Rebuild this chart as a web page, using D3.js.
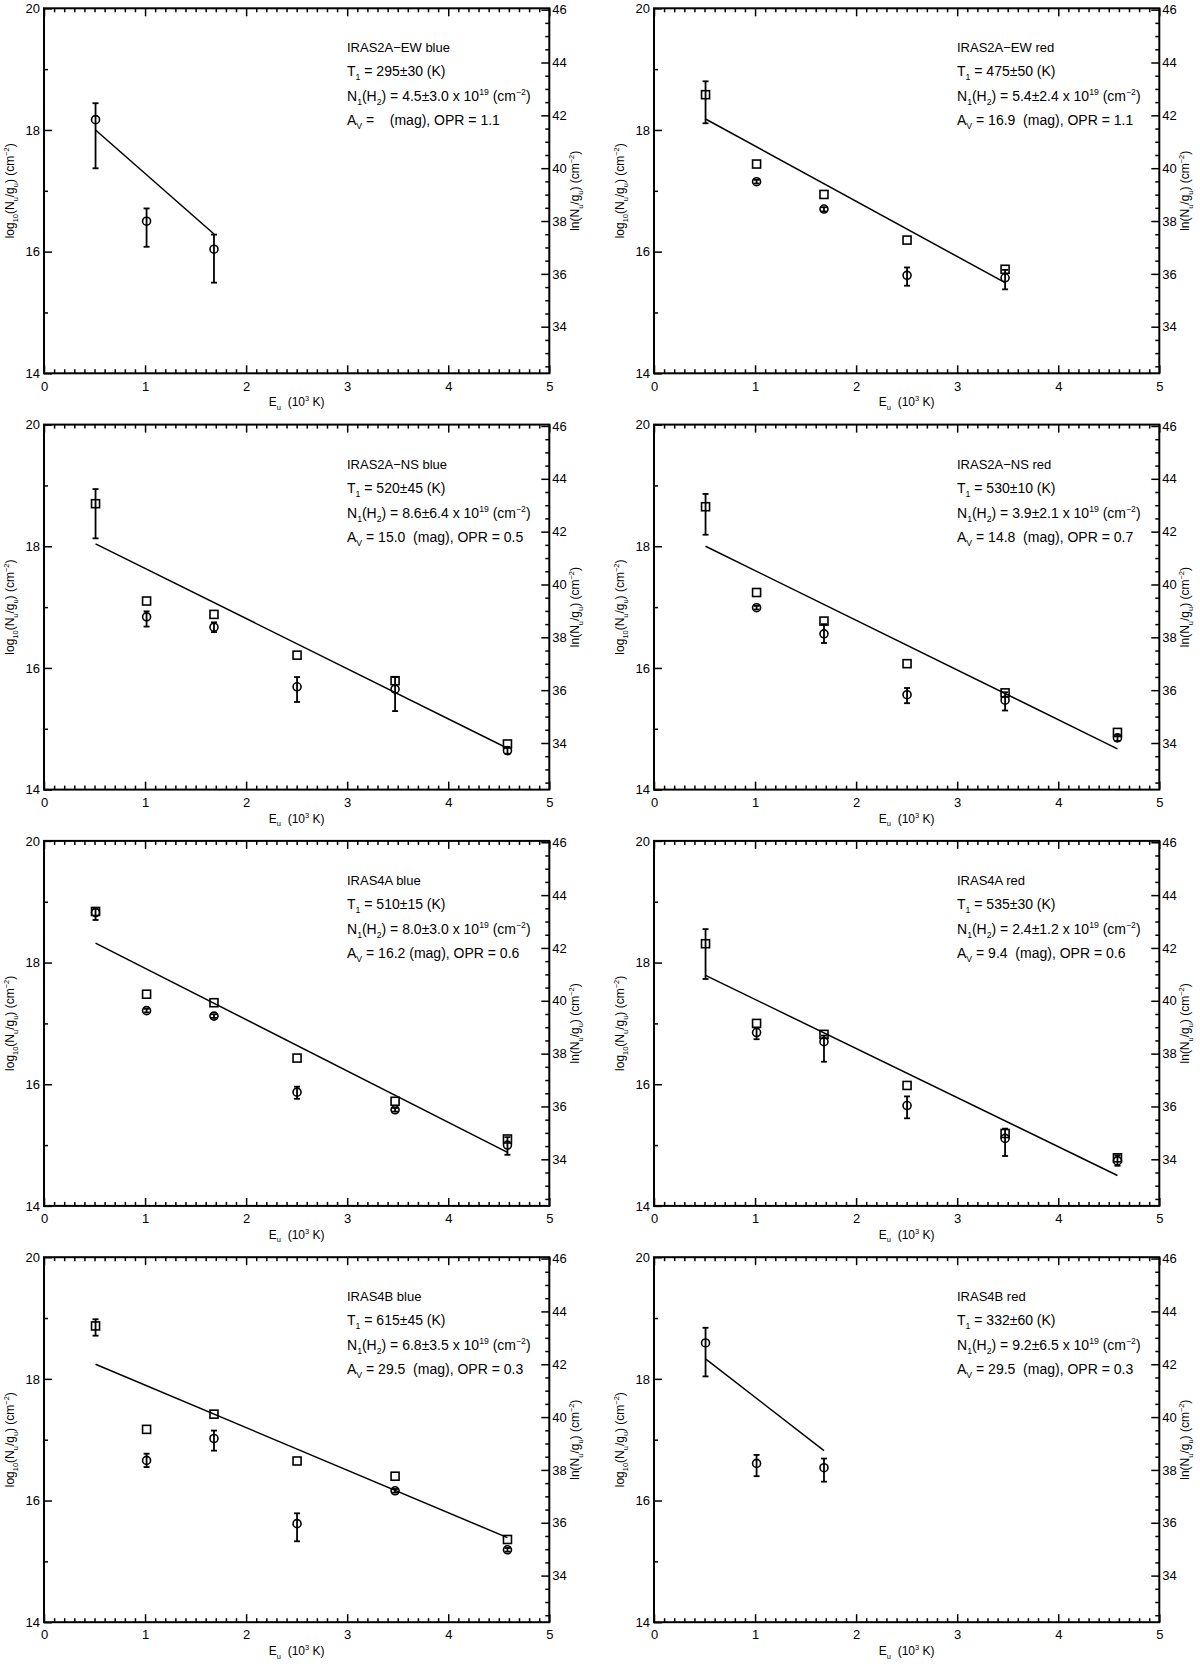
<!DOCTYPE html>
<html>
<head>
<meta charset="utf-8">
<script src="https://cdn.jsdelivr.net/npm/d3@7"></script>
<style>
  html, body { margin: 0; padding: 0; background: #fff; }
  text { font-family: "Liberation Sans", Arial, Helvetica, sans-serif; fill: #000; white-space: pre; }
</style>
</head>
<body>
<script>
// ---------------- DATA ----------------
const energies = [0.510, 1.015, 1.682, 2.504, 3.474, 4.586]; // E_u (10^3 K)

const xTicks = [0, 1, 2, 3, 4, 5];
const yTicks = [14, 16, 18, 20];
const lnTicks = [34, 36, 38, 40, 42, 44, 46];

const panelTitles = ["IRAS2A\u2212EW blue", "IRAS2A\u2212EW red", "IRAS2A\u2212NS blue", "IRAS2A\u2212NS red",
                     "IRAS4A blue", "IRAS4A red", "IRAS4B blue", "IRAS4B red"];
const tempLabels = ["295\u00b130", "475\u00b150", "520\u00b145", "530\u00b110", "510\u00b115", "535\u00b130", "615\u00b145", "332\u00b160"];
const columnLabels = ["4.5\u00b13.0", "5.4\u00b12.4", "8.6\u00b16.4", "3.9\u00b12.1", "8.0\u00b13.0", "2.4\u00b11.2", "6.8\u00b13.5", "9.2\u00b16.5"];
const avLabels = ["  ", "16.9 ", "15.0 ", "14.8 ", "16.2", "9.4 ", "29.5 ", "29.5 "];
const oprLabels = ["1.1", "1.1", "0.5", "0.7", "0.6", "0.6", "0.3", "0.3"];

// circles: log10(Nu/gu)
const circleVals = [
  [18.17, 16.50, 16.04, null, null, null],
  [null, 17.15, 16.70, 15.61, 15.57, null],
  [null, 16.84, 16.67, 15.69, 15.65, 14.64],
  [null, 16.99, 16.56, 15.56, 15.47, 14.85],
  [18.82, 17.21, 17.12, 15.87, 15.58, 15.00],
  [null, 16.85, 16.70, 15.65, 15.11, 14.74],
  [null, 16.66, 17.02, 15.62, 16.16, 15.19],
  [18.59, 16.61, 16.54, null, null, null]
];
const circleLo = [
  [17.37, 16.08, 15.49, null, null, null],
  [null, 17.12, 16.66, 15.44, 15.38, null],
  [null, 16.68, 16.59, 15.44, 15.29, 14.59],
  [null, 16.96, 16.41, 15.42, 15.30, 14.80],
  [18.70, 17.18, 17.09, 15.76, 15.55, 14.84],
  [null, 16.74, 16.37, 15.44, 14.82, 14.66],
  [null, 16.55, 16.82, 15.33, 16.13, 15.16],
  [18.04, 16.40, 16.31, null, null, null]
];
const circleHi = [
  [18.44, 16.71, 16.28, null, null, null],
  [null, 17.18, 16.73, 15.74, 15.70, null],
  [null, 16.93, 16.75, 15.85, 15.85, 14.70],
  [null, 17.02, 16.72, 15.67, 15.60, 14.90],
  [18.89, 17.24, 17.15, 15.96, 15.61, 15.13],
  [null, 16.93, 16.80, 15.80, 15.27, 14.83],
  [null, 16.77, 17.15, 15.79, 16.19, 15.22],
  [18.84, 16.75, 16.69, null, null, null]
];

// squares: log10(Nu/gu)
const squareVals = [
  [null, null, null, null, null, null],
  [18.58, 17.44, 16.94, 16.19, 15.71, null],
  [18.70, 17.10, 16.88, 16.21, 15.79, 14.75],
  [18.65, 17.24, 16.77, 16.07, 15.59, 14.94],
  [18.84, 17.48, 17.34, 16.43, 15.72, 15.10],
  [18.31, 17.00, 16.82, 15.98, 15.19, 14.79],
  [18.87, 17.17, 17.42, 16.65, 16.40, 15.36],
  [null, null, null, null, null, null]
];
const squareLo = [
  [null, null, null, null, null, null],
  [18.11, null, null, null, null, null],
  [18.13, null, null, null, null, null],
  [18.19, null, null, null, null, null],
  [null, null, null, null, null, null],
  [17.73, null, null, null, null, null],
  [18.71, null, null, null, null, null],
  [null, null, null, null, null, null]
];
const squareHi = [
  [null, null, null, null, null, null],
  [18.80, null, null, null, null, null],
  [18.94, null, null, null, null, null],
  [18.86, null, null, null, null, null],
  [null, null, null, null, null, null],
  [18.55, null, null, null, null, null],
  [18.98, null, null, null, null, null],
  [null, null, null, null, null, null]
];

// fitted line: value at first and last energy used
const fitStart = [18.00, 18.18, 18.04, 18.00, 18.32, 17.79, 18.24, 18.33];
const fitEnd   = [16.29, 15.49, 14.68, 14.67, 14.88, 14.50, 15.39, 16.82];
const fitLastIndex = [2, 4, 5, 5, 5, 5, 5, 2];

// ---------------- LAYOUT ----------------
const W = 1200, H = 1664;
const PW = 505.3, PH = 365;
const LEFT0 = 44, COLSTEP = 610, TOP0 = 8.3, ROWSTEP = 416.3;
const LN10 = Math.LN10;

const svg = d3.select("body").append("svg")
  .attr("width", W).attr("height", H)
  .attr("viewBox", `0 0 ${W} ${H}`);
svg.append("rect").attr("width", W).attr("height", H).attr("fill", "#fff");

// rich text helper: parts = [[text, mode]] mode 0 normal, 1 sub, 2 sup
function rich(textSel, parts, size) {
  let cur = 0;
  parts.forEach(([t, m]) => {
    let target = m === 1 ? size * 0.3 : (m === 2 ? -size * 0.42 : 0);
    const ts = textSel.append("tspan").text(t)
      .attr("font-size", m === 0 ? size : size * 0.62);
    if (target !== cur) { ts.attr("dy", target - cur); cur = target; }
  });
}

for (let p = 0; p < 8; p++) {
  const col = p % 2, row = Math.floor(p / 2);
  const left = LEFT0 + col * COLSTEP, top = TOP0 + row * ROWSTEP;
  const g = svg.append("g").attr("transform", `translate(${left},${top})`);

  const x = d3.scaleLinear().domain([0, 5]).range([0, PW]);
  const y = d3.scaleLinear().domain([14, 20]).range([PH, 0]);
  const yLn = d3.scaleLinear().domain([14 * LN10, 20 * LN10]).range([PH, 0]);

  const xMinor = d3.range(0, 5.0001, 0.1).map(v => +v.toFixed(1)).filter(v => Math.abs(v - Math.round(v)) > 1e-6);
  const yMinor = [15, 17, 19];
  const lnMinor = d3.range(32.5, 46.01, 0.5).filter(v => Math.abs(v / 2 - Math.round(v / 2)) > 1e-6);

  function styleAxis(sel) {
    sel.select(".domain").remove();
    sel.selectAll(".tick line").attr("stroke", "#000").attr("stroke-width", 1.5);
    sel.selectAll(".tick text").attr("font-size", 13).attr("fill", "#000")
      .attr("font-family", '"Liberation Sans", Arial, Helvetica, sans-serif');
  }

  // bottom
  g.append("g").attr("transform", `translate(0,${PH})`)
    .call(d3.axisBottom(x).tickValues(xTicks).tickSize(-8).tickPadding(8).tickSizeOuter(0).tickFormat(d3.format("d")))
    .call(styleAxis);
  g.append("g").attr("transform", `translate(0,${PH})`)
    .call(d3.axisBottom(x).tickValues(xMinor).tickSize(-4).tickSizeOuter(0).tickFormat(""))
    .call(styleAxis);
  // top
  g.append("g")
    .call(d3.axisTop(x).tickValues(xTicks).tickSize(-8).tickSizeOuter(0).tickFormat(""))
    .call(styleAxis);
  g.append("g")
    .call(d3.axisTop(x).tickValues(xMinor).tickSize(-4).tickSizeOuter(0).tickFormat(""))
    .call(styleAxis);
  // left
  g.append("g")
    .call(d3.axisLeft(y).tickValues(yTicks).tickSize(-8).tickPadding(4).tickSizeOuter(0).tickFormat(d3.format("d")))
    .call(styleAxis);
  g.append("g")
    .call(d3.axisLeft(y).tickValues(yMinor).tickSize(-4).tickSizeOuter(0).tickFormat(""))
    .call(styleAxis);
  // right (ln)
  g.append("g").attr("transform", `translate(${PW},0)`)
    .call(d3.axisRight(yLn).tickValues(lnTicks).tickSize(-8).tickPadding(3).tickSizeOuter(0).tickFormat(d3.format("d")))
    .call(styleAxis);
  g.append("g").attr("transform", `translate(${PW},0)`)
    .call(d3.axisRight(yLn).tickValues(lnMinor).tickSize(-4).tickSizeOuter(0).tickFormat(""))
    .call(styleAxis);

  // frame
  g.append("rect").attr("x", 0).attr("y", 0).attr("width", PW).attr("height", PH)
    .attr("fill", "none").attr("stroke", "#000").attr("stroke-width", 2);

  // axis titles
  const xt = g.append("text").attr("x", PW / 2).attr("y", PH + 33).attr("text-anchor", "middle");
  rich(xt, [["E", 0], ["u", 1], ["  (10", 0], ["3", 2], [" K)", 0]], 12);

  const yt = g.append("text").attr("transform", `translate(-30,${PH / 2}) rotate(-90)`).attr("text-anchor", "middle");
  rich(yt, [["log", 0], ["10", 1], ["(N", 0], ["u", 1], ["/g", 0], ["u", 1], [") (cm", 0], ["\u22122", 2], [")", 0]], 12);

  const yr = g.append("text").attr("transform", `translate(${PW + 30},${PH / 2}) rotate(-90)`).attr("text-anchor", "middle");
  rich(yr, [["ln(N", 0], ["u", 1], ["/g", 0], ["u", 1], [") (cm", 0], ["\u22122", 2], [")", 0]], 12);

  // annotation
  const ax = 303;
  g.append("text").attr("x", ax).attr("y", 44).attr("font-size", 13).text(panelTitles[p]);
  rich(g.append("text").attr("x", ax).attr("y", 68),
    [["T", 0], ["1", 1], [" = " + tempLabels[p] + " (K)", 0]], 14);
  rich(g.append("text").attr("x", ax).attr("y", 93),
    [["N", 0], ["1", 1], ["(H", 0], ["2", 1], [") = " + columnLabels[p] + " x 10", 0], ["19", 2], [" (cm", 0], ["\u22122", 2], [")", 0]], 14);
  rich(g.append("text").attr("x", ax).attr("y", 117),
    [["A", 0], ["V", 1], [" = " + avLabels[p] + " (mag), OPR = " + oprLabels[p], 0]], 14);

  // fit line
  const li = fitLastIndex[p];
  g.append("line")
    .attr("x1", x(energies[0])).attr("y1", y(fitStart[p]))
    .attr("x2", x(energies[li])).attr("y2", y(fitEnd[p]))
    .attr("stroke", "#000").attr("stroke-width", 1.5);

  // error bars
  function errBars(lo, hi) {
    const d = energies.map((e, i) => ({ e, lo: lo[p][i], hi: hi[p][i] })).filter(o => o.lo != null && o.hi != null);
    const eg = g.append("g").attr("stroke", "#000").attr("stroke-width", 1.8).attr("fill", "none");
    d.forEach(o => {
      const cx = x(o.e);
      eg.append("line").attr("x1", cx).attr("x2", cx).attr("y1", y(o.lo)).attr("y2", y(o.hi));
      eg.append("line").attr("x1", cx - 3).attr("x2", cx + 3).attr("y1", y(o.lo)).attr("y2", y(o.lo));
      eg.append("line").attr("x1", cx - 3).attr("x2", cx + 3).attr("y1", y(o.hi)).attr("y2", y(o.hi));
    });
  }
  errBars(circleLo, circleHi);
  errBars(squareLo, squareHi);

  // squares
  const sq = energies.map((e, i) => ({ e, v: squareVals[p][i] })).filter(o => o.v != null);
  g.selectAll(".sq").data(sq).enter().append("rect")
    .attr("x", d => x(d.e) - 4).attr("y", d => y(d.v) - 4)
    .attr("width", 8).attr("height", 8)
    .attr("fill", "none").attr("stroke", "#000").attr("stroke-width", 1.6);

  // circles
  const ci = energies.map((e, i) => ({ e, v: circleVals[p][i] })).filter(o => o.v != null);
  g.selectAll(".ci").data(ci).enter().append("circle")
    .attr("cx", d => x(d.e)).attr("cy", d => y(d.v)).attr("r", 4)
    .attr("fill", "none").attr("stroke", "#000").attr("stroke-width", 1.6);
}
</script>
</body>
</html>
